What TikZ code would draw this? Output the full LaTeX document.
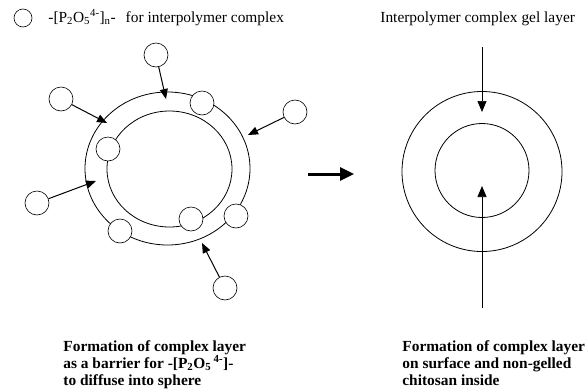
\documentclass[tikz,border=0pt]{standalone}
\usepackage{fontspec}
\setmainfont{Liberation Serif}
\usetikzlibrary{arrows.meta}
\begin{document}
\begin{tikzpicture}[x=1pt,y=-1pt,
  line width=0.8pt,
  ion/.style={circle,draw,fill=white,minimum size=24pt,inner sep=0pt,line width=0.6pt},
  push/.style={-{Triangle[length=10pt,width=8pt]},line width=1pt},
  probe/.style={-{Triangle[length=11pt,width=9pt]},line width=0.7pt},
  label/.style={anchor=base west,inner sep=0pt,font=\fontsize{15.4}{17}\selectfont},
  caption/.style={anchor=base west,inner sep=0pt,font=\bfseries\fontsize{15.4}{17}\selectfont}]
\useasboundingbox (0,0) rectangle (587,389);

% key
\node[ion,minimum size=18pt] (key) at (23,18) {};
\node[label] (keytext) at (48,22) {-[P\textsubscript{2}O\textsubscript{5}\textsuperscript{4-}]\textsubscript{n}-\hspace{10pt}for interpolymer complex};

% left sphere: shell being formed
\draw (167.5,168.5) ellipse [x radius=82.5pt,y radius=76.5pt];
\draw (169.5,169) ellipse [x radius=62.5pt,y radius=58pt];

\node[ion] (c1) at (156,55) {};
\node[ion] (c2) at (61,99) {};
\node[ion] (c3) at (202,103) {};
\node[ion] (c4) at (295,112) {};
\node[ion] (c5) at (108,149) {};
\node[ion] (c6) at (37,203) {};
\node[ion] (c7) at (120,231) {};
\node[ion] (c8) at (191,219) {};
\node[ion] (c9) at (236,216) {};
\node[ion] (c10) at (225,288) {};

\coordinate (t1) at (166,99);
\coordinate (t2) at (107,123);
\coordinate (t4) at (248,135);
\coordinate (t6) at (96,181);
\coordinate (t10) at (202,243);
\draw[push] (c1) -- (t1);
\draw[push] (c2) -- (t2);
\draw[push] (c4) -- (t4);
\draw[push] (c6) -- (t6);
\draw[push] (c10) -- (t10);

% process arrow
\coordinate (pa) at (308,174);
\coordinate (pb) at (354,174);
\draw[-{Triangle[length=14pt,width=13pt]},line width=3pt] (pa) -- (pb);

% right sphere: gel layer and core
\draw (482,171.5) circle [radius=80pt];
\draw (482,170.5) circle [radius=47pt];
\node[label] (gel) at (380,22) {Interpolymer complex gel layer};
\coordinate (g1) at (482,47);
\coordinate (g2) at (482,112);
\coordinate (k1) at (482,308);
\coordinate (k2) at (482,186);
\draw[probe] (g1) -- (g2);
\draw[probe] (k1) -- (k2);

% captions
\node[caption] (capl1) at (63,351) {Formation of complex layer};
\node[caption] (capl2) at (63,368) {as a barrier for -[P\textsubscript{2}O\textsubscript{5}\,\textsuperscript{4-}]-};
\node[caption] (capl3) at (63,385) {to diffuse into sphere};
\node[caption] (capr1) at (402,351) {Formation of complex layer};
\node[caption] (capr2) at (402,368) {on surface and non-gelled};
\node[caption] (capr3) at (402,385) {chitosan inside};
\end{tikzpicture}
\end{document}
